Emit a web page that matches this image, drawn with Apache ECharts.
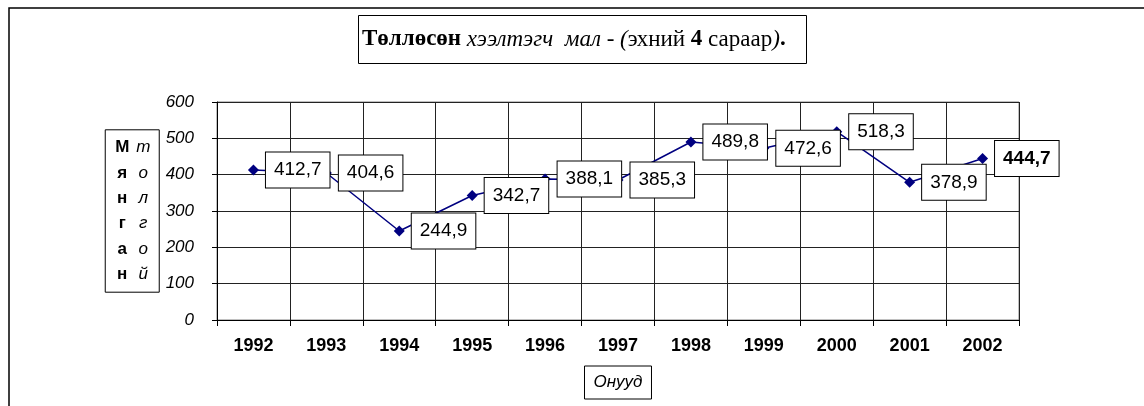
<!DOCTYPE html>
<html>
<head>
<meta charset="utf-8">
<script src="https://cdn.jsdelivr.net/npm/echarts@6/dist/echarts.min.js"></script>
<style>
	html, body { margin: 0; padding: 0; background: #fff; }
	#main { width: 1144px; height: 406px; }
</style>
</head>
<body>
<div id="main"></div>
<script>
	// Years on the x axis
	const years = ['1992', '1993', '1994', '1995', '1996', '1997', '1998', '1999', '2000', '2001', '2002']
	// Thousand heads
	const values = [412.7, 404.6, 244.9, 342.7, 388.1, 385.3, 489.8, 472.6, 518.3, 378.9, 444.7]
	// y axis ticks
	const yTicks = [0, 100, 200, 300, 400, 500, 600]
	// vertical axis name, two columns
	const yNameBold = ['М', 'я', 'н', 'г', 'а', 'н']
	const yNameItalic = ['т', 'о', 'л', 'г', 'о', 'й']

	const chart = echarts.init(document.getElementById('main'))

	// build rich text for y name
	const yName = yNameBold.map((ch, i) => `{b|${ch}}{i|${yNameItalic[i]}}`).join('\n')

	const seriesData = values.map((v, i) => {
		const item = { value: v }
		// last value is printed bold
		if (i === values.length - 1) {
			item.label = { fontWeight: 'bold' }
		}
		return item
	})

	const serif = 'Liberation Serif'
	const sans = 'Arial, Liberation Sans'

	const option = {
		animation: false,
		backgroundColor: '#fff',
		title: {
			left: 358,
			top: 15,
			padding: [13, 21, 13, 4],
			borderColor: '#000',
			borderWidth: 1,
			text: '{b|Төллөсөн} {i|хээлтэгч  мал - (}{n|эхний }{b|4}{n| сараар}{i|)}{b|.}',
			textStyle: {
				fontFamily: serif,
				fontSize: 23,
				fontWeight: 'normal',
				rich: {
					b: { fontFamily: serif, fontSize: 23, fontWeight: 'bold', color: '#000' },
					i: { fontFamily: serif, fontSize: 23, fontWeight: 'normal', fontStyle: 'italic', color: '#000' },
					n: { fontFamily: serif, fontSize: 23, fontWeight: 'normal', color: '#000' },
				}
			}
		},
		graphic: [
			{
				// outer chart frame
				type: 'rect',
				shape: { x: 9, y: 8, width: 1300, height: 600 },
				style: { fill: 'none', stroke: '#000', lineWidth: 1.5 },
				silent: true,
			}
		],
		grid: {
			left: 217,
			right: 125,
			top: 102,
			bottom: 86,
			show: true,
			borderColor: '#808080',
			borderWidth: 1,
		},
		xAxis: {
			type: 'category',
			data: years,
			boundaryGap: true,
			name: 'Онууд',
			nameLocation: 'middle',
			nameGap: 46,
			nameTextStyle: {
				fontFamily: sans,
				fontSize: 17,
				fontStyle: 'italic',
				color: '#000',
				verticalAlign: 'top',
				padding: [8, 9, 8, 9],
				borderColor: '#000',
				borderWidth: 1,
			},
			axisLine: { lineStyle: { color: '#000', width: 1 } },
			axisTick: { show: true, length: 6, lineStyle: { color: '#000' } },
			axisLabel: {
				fontFamily: sans,
				fontSize: 18,
				fontWeight: 'bold',
				color: '#000',
				margin: 17,
				interval: 0,
			},
			splitLine: { show: true, lineStyle: { color: '#222', width: 1 } },
		},
		yAxis: {
			type: 'value',
			min: yTicks[0],
			max: yTicks[yTicks.length - 1],
			interval: 100,
			name: yName,
			nameLocation: 'middle',
			nameRotate: 0,
			nameGap: 57,
			nameTextStyle: {
				align: 'right',
				verticalAlign: 'middle',
				padding: [5, 6, 5, 6],
				borderColor: '#000',
				borderWidth: 1,
				lineHeight: 25.4,
				rich: {
					b: { fontFamily: sans, fontSize: 17, fontWeight: 'bold', color: '#000', width: 22, align: 'center', lineHeight: 25.4 },
					i: { fontFamily: sans, fontSize: 17, fontStyle: 'italic', color: '#000', width: 20, align: 'center', lineHeight: 25.4 },
				}
			},
			axisLine: { show: true, lineStyle: { color: '#000', width: 1 } },
			axisTick: { show: true, length: 5, lineStyle: { color: '#000' } },
			axisLabel: {
				fontFamily: sans,
				fontSize: 17,
				fontStyle: 'italic',
				color: '#000',
				margin: 23,
			},
			splitLine: { show: true, lineStyle: { color: '#222', width: 1 } },
		},
		series: [
			{
				name: 'Төллөсөн',
				type: 'line',
				data: seriesData,
				symbol: 'diamond',
				symbolSize: 11,
				lineStyle: { color: '#000080', width: 1.5 },
				itemStyle: { color: '#000080' },
				label: {
					show: true,
					position: 'right',
					distance: 7,
					fontFamily: sans,
					fontSize: 19,
					color: '#000',
					backgroundColor: '#fff',
					borderColor: '#000',
					borderWidth: 1,
					padding: [8, 8, 8, 8],
					formatter: p => String(p.value).replace('.', ','),
				},
				z: 3,
			}
		]
	}

	chart.setOption(option)
</script>
</body>
</html>
